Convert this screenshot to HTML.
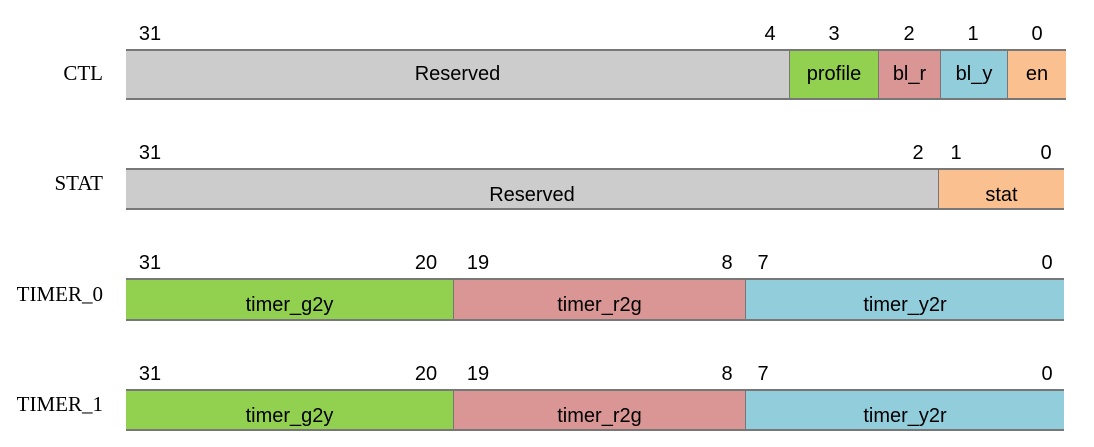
<!DOCTYPE html>
<html><head><meta charset="utf-8"><style>
body{margin:0;width:1094px;height:447px;background:#fff;position:relative;overflow:hidden;font-family:"Liberation Sans",sans-serif;}
.reg{position:absolute;font-family:"Liberation Serif",serif;font-size:21px;color:#000;text-align:right;width:103px;left:0}
.bit{position:absolute;font-size:20px;color:#000;transform:translateX(-50%);line-height:1}
.f{position:absolute;box-sizing:border-box;border-top:2px solid #777;border-bottom:2px solid #777;display:flex;align-items:center;justify-content:center;font-size:20px;color:#000}
.dv{border-left:1px solid #777}
</style></head><body>
<div id="root"></div>
<script>
const regNames=["CTL","STAT","TIMER_0","TIMER_1"];
const rowTop=[50,169,279,390];
const rowBot=[99,209,320,430];
const fields=[
 [["Reserved",126,789,"#cccccc",0],["profile",789,878,"#92d050",0],["bl_r",878,940,"#da9694",0],["bl_y",940,1007,"#92cddc",0],["en",1007,1066,"#fac090",0]],
 [["Reserved",126,938,"#cccccc",6],["stat",938,1064,"#fac090",6]],
 [["timer_g2y",126,453,"#92d050",6],["timer_r2g",453,745,"#da9694",6],["timer_y2r",745,1064,"#92cddc",6]],
 [["timer_g2y",126,453,"#92d050",6],["timer_r2g",453,745,"#da9694",6],["timer_y2r",745,1064,"#92cddc",6]]
];
const bits=[
 [["31",150],["4",770],["3",834],["2",909],["1",973],["0",1037]],
 [["31",150],["2",918],["1",956],["0",1046]],
 [["31",150],["20",426],["19",478],["8",727],["7",763],["0",1047]],
 [["31",150],["20",426],["19",478],["8",727],["7",763],["0",1047]]
];
const root=document.getElementById('root');
regNames.forEach((n,i)=>{
 const l=document.createElement('div');l.className='reg';l.textContent=n;
 
 
 l.style.top=(rowTop[i]+(rowBot[i]-rowTop[i])/2-(i==0?14:18))+'px';
 root.appendChild(l);
 bits[i].forEach(b=>{
  const e=document.createElement('div');e.className='bit';e.textContent=b[0];
  
  
  e.style.left=b[1]+'px';e.style.top=(rowTop[i]-26)+'px';
  root.appendChild(e);
 });
 fields[i].forEach((f,j)=>{
  const e=document.createElement('div');e.className='f'+(j>0?' dv':'');
  
  
  e.style.left=f[1]+'px';e.style.width=(f[2]-f[1])+'px';
  e.style.top=(rowTop[i]-1)+'px';e.style.height=(rowBot[i]-rowTop[i]+2)+'px';
  e.style.background=f[3];e.style.paddingTop=(f[4]*2)+'px';
  e.textContent=f[0];
  root.appendChild(e);
 });
});
</script>
</body></html>
